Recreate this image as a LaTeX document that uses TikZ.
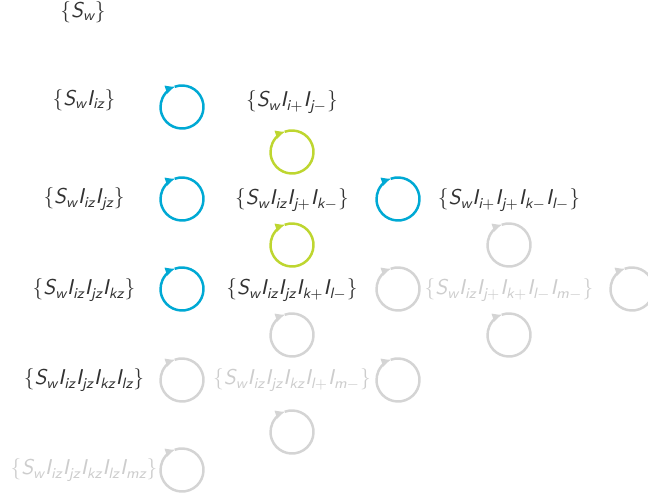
\documentclass[tikz,border=0pt]{standalone}
\usepackage{amsmath}
\usepackage{tikz}
\usetikzlibrary{arrows.meta}

\definecolor{loopblue}{RGB}{0,169,212}
\definecolor{loopgreen}{RGB}{190,214,48}
\definecolor{loopgray}{RGB}{212,212,212}
\definecolor{txtdark}{RGB}{50,50,50}
\definecolor{txtgray}{RGB}{205,205,205}

\newcommand{\si}[1]{\textsf{\itshape #1}}
\newcommand{\opset}[1]{\textsf{\{}#1\textsf{\}}}
\newcommand{\Sw}{\si{S}_{\si{w}}}
\newcommand{\Iq}[1]{\si{I}_{#1}}

\begin{document}
\begin{tikzpicture}[x=0.5pt,y=0.5pt,
  every node/.style={font=\fontsize{10.7}{13}\selectfont,inner sep=0pt},
  cyc/.style={line width=1.25pt,-{Latex[length=5pt,width=4.6pt]}},
  dark/.style={text=txtdark},
  faint/.style={text=txtgray}]

\useasboundingbox (0,0) rectangle (648,500);
\clip (0,0) rectangle (648,500);

% First column
\node[dark] (sw) at (83,488) {$\opset{\Sw}$};
\node[dark] (swiz) at (84,400) {$\opset{\Sw\Iq{\si{iz}}}$};
\node[dark] (swizjz) at (84,301) {$\opset{\Sw\Iq{\si{iz}}\Iq{\si{jz}}}$};
\node[dark] (swizjzkz) at (84,210) {$\opset{\Sw\Iq{\si{iz}}\Iq{\si{jz}}\Iq{\si{kz}}}$};
\node[dark] (swizjzkzlz) at (84,120) {$\opset{\Sw\Iq{\si{iz}}\Iq{\si{jz}}\Iq{\si{kz}}\Iq{\si{lz}}}$};
\node[faint] (swizjzkzlzmz) at (84,30) {$\opset{\Sw\Iq{\si{iz}}\Iq{\si{jz}}\Iq{\si{kz}}\Iq{\si{lz}}\Iq{\si{mz}}}$};

% Second column
\node[dark] (swipjm) at (292,398) {$\opset{\Sw\Iq{\si{i}+}\Iq{\si{j}-}}$};
\node[dark] (swizjpkm) at (292,300) {$\opset{\Sw\Iq{\si{iz}}\Iq{\si{j}+}\Iq{\si{k}-}}$};
\node[dark] (swizjzkplm) at (292,210) {$\opset{\Sw\Iq{\si{iz}}\Iq{\si{jz}}\Iq{\si{k}+}\Iq{\si{l}-}}$};
\node[faint] (swizjzkzlpmm) at (292,120) {$\opset{\Sw\Iq{\si{iz}}\Iq{\si{jz}}\Iq{\si{kz}}\Iq{\si{l}+}\Iq{\si{m}-}}$};

% Third column
\node[dark] (swipjpkmlm) at (509,300) {$\opset{\Sw\Iq{\si{i}+}\Iq{\si{j}+}\Iq{\si{k}-}\Iq{\si{l}-}}$};
\node[faint] (swizjpkplmmm) at (509,210) {$\opset{\Sw\Iq{\si{iz}}\Iq{\si{j}+}\Iq{\si{k}+}\Iq{\si{l}-}\Iq{\si{m}-}}$};

% Loops
\foreach \x/\y/\c in {182/393/loopblue, 182/301/loopblue, 182/211/loopblue,
    398/301/loopblue, 292/348/loopgreen, 292/255/loopgreen,
    182/120/loopgray, 182/30/loopgray, 292/165/loopgray, 292/68/loopgray,
    398/211/loopgray, 398/120/loopgray, 509/255/loopgray, 509/165/loopgray,
    632/211/loopgray}
  \draw[cyc,\c] (\x,\y) ++(470:21.5) arc[start angle=470,end angle=108,radius=21.5];

\end{tikzpicture}
\end{document}
